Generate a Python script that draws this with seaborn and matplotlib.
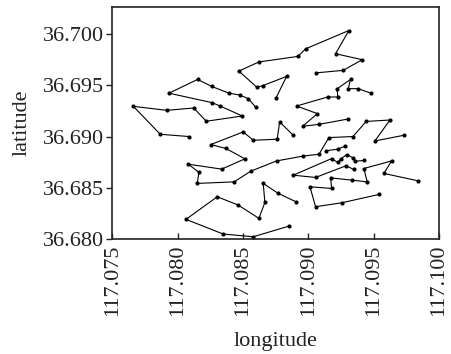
import pandas as pd
import matplotlib.pyplot as plt
import seaborn as sns

# route coordinates (longitude, latitude)
r1_lon = [117.09061, 117.09267, 117.09413, 117.09209, 117.09311, 117.08980, 117.08921,
          117.08622, 117.08469, 117.08607, 117.08651, 117.08834, 117.08752]
r1_lat = [36.69620, 36.69644, 36.69748, 36.69806, 36.70032, 36.69854, 36.69780,
          36.69726, 36.69637, 36.69479, 36.69495, 36.69585, 36.69372]

r2_lon = [117.08089, 117.07867, 117.07661, 117.07916, 117.08123, 117.08219, 117.08495,
          117.08326, 117.08263, 117.07934, 117.08153, 117.08261, 117.08391, 117.08475,
          117.08541, 117.08597]
r2_lat = [36.69000, 36.69022, 36.69294, 36.69255, 36.69278, 36.69149, 36.69200,
          36.69297, 36.69330, 36.69422, 36.69556, 36.69488, 36.69423, 36.69404,
          36.69369, 36.69287]

r3_lon = [117.09477, 117.09382, 117.09306, 117.09324, 117.09222, 117.09225, 117.09148,
          117.08911, 117.09070, 117.08957, 117.09084, 117.09306]
r3_lat = [36.69423, 36.69466, 36.69466, 36.69556, 36.69466, 36.69385, 36.69385,
          36.69297, 36.69223, 36.69100, 36.69119, 36.69171]

r4_lon = [117.09734, 117.09510, 117.09625, 117.09443, 117.09342, 117.09158, 117.09082,
          117.08957, 117.08758, 117.08559, 117.08433, 117.08150, 117.08163, 117.08082,
          117.08337, 117.08515, 117.08370, 117.08253, 117.08502, 117.08579, 117.08762,
          117.08781, 117.08880]
r4_lat = [36.69013, 36.68957, 36.69161, 36.69147, 36.69000, 36.68990, 36.68828,
          36.68809, 36.68763, 36.68663, 36.68559, 36.68544, 36.68651, 36.68731,
          36.68683, 36.68783, 36.68884, 36.68922, 36.69045, 36.68964, 36.68974,
          36.69142, 36.69019]

r5_lon = [117.08906, 117.08770, 117.08655, 117.08668, 117.08622, 117.08464, 117.08303,
          117.08064, 117.08349, 117.08579, 117.08854]
r5_lat = [36.68365, 36.68447, 36.68544, 36.68359, 36.68204, 36.68333, 36.68414,
          36.68194, 36.68051, 36.68025, 36.68129]

r6_lon = [117.09349, 117.09288, 117.09056, 117.08885, 117.09179, 117.09225, 117.09248,
          117.09293, 117.09344, 117.09357, 117.09426]
r6_lat = [36.68680, 36.68715, 36.68602, 36.68624, 36.68786, 36.68748, 36.68780,
          36.68825, 36.68792, 36.68760, 36.68767]

r7_lon = [117.09841, 117.09579, 117.09638, 117.09426, 117.09451, 117.09332, 117.09171,
          117.09179, 117.09013, 117.09056, 117.09255, 117.09543]
r7_lat = [36.68569, 36.68641, 36.68763, 36.68689, 36.68559, 36.68576, 36.68598,
          36.68495, 36.68511, 36.68317, 36.68355, 36.68437]

r8_lon = [117.09135, 117.09225, 117.09280]
r8_lat = [36.68862, 36.68877, 36.68906]

routes = [(r1_lon, r1_lat), (r2_lon, r2_lat), (r3_lon, r3_lat), (r4_lon, r4_lat),
          (r5_lon, r5_lat), (r6_lon, r6_lat), (r7_lon, r7_lat), (r8_lon, r8_lat)]

frames = []
for i, (lon, lat) in enumerate(routes):
    frames.append(pd.DataFrame({'longitude': lon, 'latitude': lat,
                                'route': i, 'order': range(len(lon))}))
df = pd.concat(frames, ignore_index=True)

sns.set_style('ticks')
plt.rcParams['font.family'] = ['Liberation Serif', 'DejaVu Serif']

fig = plt.figure(figsize=(4.52, 3.54), dpi=100)
ax = fig.add_axes([0.2485, 0.324, 0.7225, 0.656])

sns.lineplot(data=df, x='longitude', y='latitude', units='route', estimator=None,
             sort=False, color='black', linewidth=0.8, marker='o', markersize=3,
             markeredgewidth=0, ax=ax)

ax.set_xlim(117.075, 117.100)
ax.set_ylim(36.680, 36.7026)
ax.set_xticks([117.075, 117.080, 117.085, 117.090, 117.095, 117.100])
ax.set_yticks([36.680, 36.685, 36.690, 36.695, 36.700])
ax.set_xticklabels(['%.3f' % v for v in ax.get_xticks()], rotation=90)
ax.set_yticklabels(['%.3f' % v for v in ax.get_yticks()])
ax.tick_params(axis='x', direction='in', length=4, width=1, labelsize=16,
               colors='#222222', pad=4)
ax.tick_params(axis='y', direction='out', length=4, width=1, labelsize=16,
               colors='#222222', pad=2)
for s in ax.spines.values():
    s.set_visible(True)
    s.set_linewidth(1.2)
    s.set_color('#222222')

ax.set_xlabel('longitude', fontsize=16, color='#222222', labelpad=11)
ax.set_ylabel('latitude', fontsize=16, color='#222222', labelpad=8)

fig.savefig('out.png', dpi=100)
